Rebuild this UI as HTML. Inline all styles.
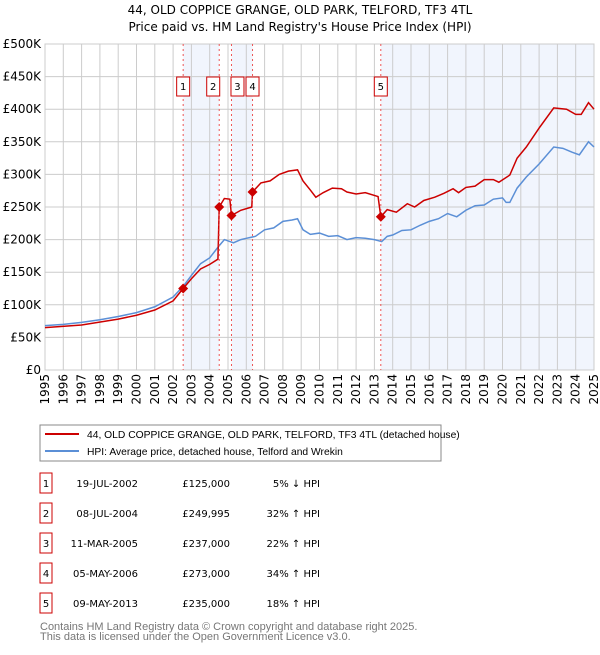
<!DOCTYPE html>
<html><head><meta charset="utf-8"><style>
body{margin:0;background:#fff;font-family:"Liberation Sans","DejaVu Sans",sans-serif;}
svg text{font-family:"DejaVu Sans","Liberation Sans",sans-serif;}
svg text.lib{font-family:"Liberation Sans","DejaVu Sans",sans-serif;}
</style></head><body>
<svg id="chart" width="600" height="650" viewBox="0 0 600 650" xmlns="http://www.w3.org/2000/svg">
<text x="300" y="14" text-anchor="middle" font-size="12" fill="#000">44, OLD COPPICE GRANGE, OLD PARK, TELFORD, TF3 4TL</text>
<text x="300" y="31" text-anchor="middle" font-size="12" fill="#000">Price paid vs. HM Land Registry's House Price Index (HPI)</text>
<g id="bands"></g><g id="grid"></g><g id="axes"></g><g id="lines"></g><g id="marks"></g>
<rect x="40" y="425" width="401" height="36" fill="#fff" stroke="#888"/>
<line x1="45" y1="434" x2="79" y2="434" stroke="#cc0000" stroke-width="2"/>
<text class="lib" x="87" y="438" font-size="10.3">44, OLD COPPICE GRANGE, OLD PARK, TELFORD, TF3 4TL (detached house)</text>
<line x1="45" y1="451" x2="79" y2="451" stroke="#5b8fd6" stroke-width="2"/>
<text class="lib" x="87" y="455" font-size="10.3">HPI: Average price, detached house, Telford and Wrekin</text>
<g id="table" font-size="10"></g>
<text class="lib" x="40" y="630" font-size="11" fill="#777">Contains HM Land Registry data © Crown copyright and database right 2025.</text>
<text class="lib" x="40" y="640" font-size="11" fill="#777">This data is licensed under the Open Government Licence v3.0.</text>
</svg>
<script>
const hpiYears=[1995,1996,1997,1998,1999,2000,2001,2002,2002.6,2003,2003.5,2004,2004.5,2004.8,2005.3,2005.7,2006,2006.5,2007,2007.5,2008,2008.5,2008.8,2009.1,2009.5,2010,2010.5,2011,2011.5,2012,2012.5,2013,2013.4,2013.7,2014,2014.5,2015,2015.5,2016,2016.5,2017,2017.5,2018,2018.5,2019,2019.5,2020,2020.2,2020.4,2020.8,2021.3,2022,2022.8,2023.3,2023.8,2024.2,2024.7,2025];
const hpiValues=[68,70,73,77,82,88,97,112,130,145,163,172,190,200,195,200,202,205,215,218,228,230,232,215,208,210,205,206,200,203,202,200,197,205,207,214,215,222,228,232,240,235,245,252,253,262,264,257,257,279,296,316,342,340,334,330,350,342];
const priceYears=[1995,1997,1999,2000,2001,2002,2002.55,2003,2003.5,2004,2004.45,2004.52,2004.8,2005.1,2005.19,2005.7,2006.3,2006.34,2006.8,2007.3,2007.8,2008.3,2008.8,2009.1,2009.5,2009.8,2010.2,2010.7,2011.2,2011.5,2012,2012.5,2013.2,2013.35,2013.7,2014.2,2014.8,2015.2,2015.7,2016.3,2016.8,2017.3,2017.6,2018,2018.5,2019,2019.5,2019.8,2020.4,2020.8,2021.3,2022,2022.8,2023.5,2024,2024.3,2024.7,2025];
const priceValues=[65,69,78,84,92,106,125,140,155,162,170,250,263,262,237,245,250,273,287,290,300,305,307,290,276,265,272,279,278,273,270,272,266,235,246,242,255,250,260,265,271,278,272,280,282,292,292,288,299,325,342,371,402,400,392,392,410,400];
const saleLabels=["1","2","3","4","5"];
const saleYears=[2002.55,2004.52,2005.19,2006.34,2013.35];
const saleValues=[125,249.995,237,273,235];
const saleDates=["19-JUL-2002","08-JUL-2004","11-MAR-2005","05-MAY-2006","09-MAY-2013"];
const salePrices=["£125,000","£249,995","£237,000","£273,000","£235,000"];
const saleDiffs=["5% ↓ HPI","32% ↑ HPI","22% ↑ HPI","34% ↑ HPI","18% ↑ HPI"];
const yTicks=[0,50,100,150,200,250,300,350,400,450,500];
const yTickLabels=["£0","£50K","£100K","£150K","£200K","£250K","£300K","£350K","£400K","£450K","£500K"];
const xTicks=[1995,1996,1997,1998,1999,2000,2001,2002,2003,2004,2005,2006,2007,2008,2009,2010,2011,2012,2013,2014,2015,2016,2017,2018,2019,2020,2021,2022,2023,2024,2025];

const NS="http://www.w3.org/2000/svg";
const X0=45,X1=594,Y0=370,Y1=44;
const x=y=>X0+(y-1995)/30*(X1-X0);
const yv=v=>Y0-v/500*(Y0-Y1);
function mk(tag,attrs,parent){const e=document.createElementNS(NS,tag);for(const k in attrs)e.setAttribute(k,attrs[k]);document.getElementById(parent).appendChild(e);return e;}
const bandPairs=[[0,1],[2,3],[4,null]];
bandPairs.forEach(p=>{const a=x(saleYears[p[0]]),b=p[1]===null?X1:x(saleYears[p[1]]);
const r=mk('rect',{x:a,y:Y1,width:b-a,height:Y0-Y1,fill:'#eef3fd',opacity:0.8},'bands');

});
yTicks.forEach((t,i)=>{const l=mk('line',{x1:X0,x2:X1,y1:yv(t),y2:yv(t),stroke:'#ccc','stroke-width':1},'grid');


const tx=mk('text',{x:X0-4,y:yv(t)+4,'text-anchor':'end','font-size':12},'axes');tx.textContent=yTickLabels[i];

});
xTicks.forEach(t=>{const l=mk('line',{x1:x(t),x2:x(t),y1:Y1,y2:Y0,stroke:'#ccc','stroke-width':1},'grid');


const px=x(t)+4,py=374;
const tx=mk('text',{x:px,y:py,'text-anchor':'end','font-size':12,transform:`rotate(-90 ${px} ${py})`},'axes');tx.textContent=t;

});
const hp=mk('polyline',{points:hpiYears.map((t,i)=>x(t)+','+yv(hpiValues[i])).join(' '),fill:'none',stroke:'#5b8fd6','stroke-width':1.5},'lines');


const pp=mk('polyline',{points:priceYears.map((t,i)=>x(t)+','+yv(priceValues[i])).join(' '),fill:'none',stroke:'#cc0000','stroke-width':1.5},'lines');


saleYears.forEach((t,i)=>{const cx=x(t);
const vl=mk('line',{x1:cx,x2:cx,y1:Y1,y2:Y0,stroke:'#e55','stroke-width':1,'stroke-dasharray':'2,3'},'marks');


const cy=yv(saleValues[i]);
const d=mk('polygon',{points:`${cx},${cy-5} ${cx+5},${cy} ${cx},${cy+5} ${cx-5},${cy}`,fill:'#cc0000'},'marks');


const off=i===1?-6:(i===2?6:0);
const bx=mk('rect',{x:cx-6.5+off,y:77,width:13,height:19,fill:'#fff',stroke:'#cc0000'},'marks');


const tx=mk('text',{x:cx+off,y:90,'text-anchor':'middle','font-size':10},'marks');tx.textContent=saleLabels[i];

});
const ax=mk('rect',{x:X0,y:Y1,width:X1-X0,height:Y0-Y1,fill:'none',stroke:'#ccc'},'axes');


saleLabels.forEach((lab,i)=>{const cy=483+i*30;
const b=mk('rect',{x:40,y:cy-10,width:12,height:20,fill:'#fff',stroke:'#cc0000'},'table');


const cols=[[46,lab,'middle'],[138,saleDates[i],'end'],[230,salePrices[i],'end'],[320,saleDiffs[i],'end']];
cols.forEach(c=>{const t=mk('text',{x:c[0],y:cy+4,'text-anchor':c[2],'font-size':10},'table');t.textContent=c[1];

});});
</script>
</body></html>
